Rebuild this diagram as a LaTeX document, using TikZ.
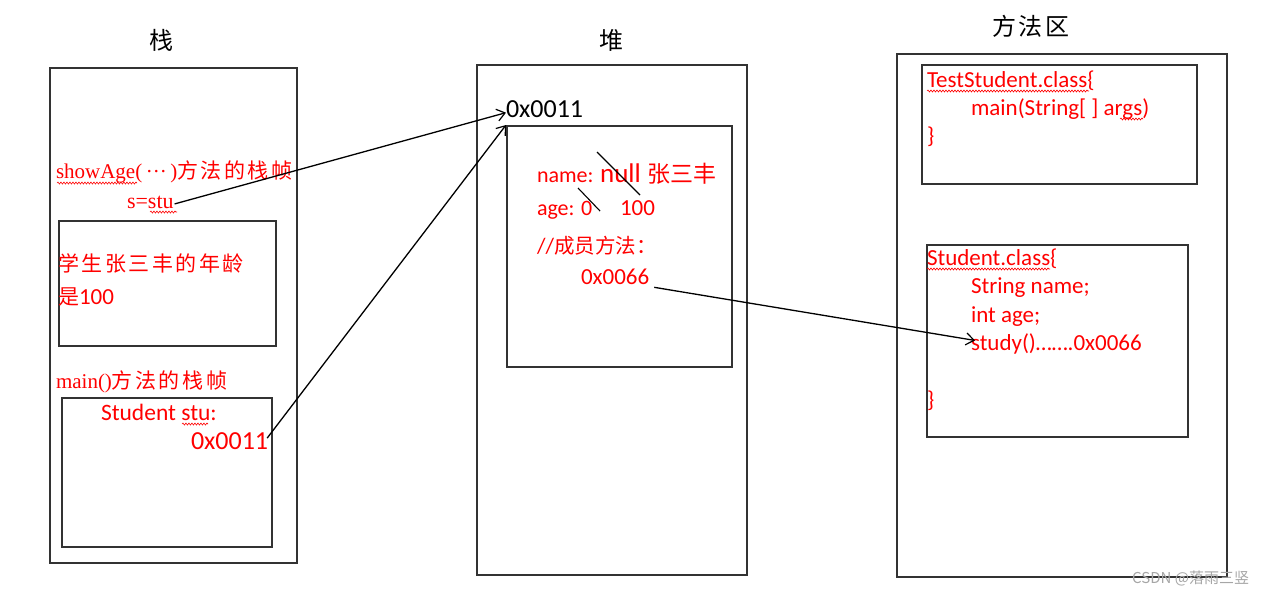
\documentclass[tikz,border=0pt]{standalone}
\usepackage{fontspec}
\setmainfont{Liberation Serif}
\newfontfamily\calib{Carlito}
\newfontfamily\cjk{Noto Sans CJK SC}
\newfontfamily\cjks[LetterSpace=12]{Noto Sans CJK SC}
\usetikzlibrary{arrows.meta,decorations.pathmorphing}
\newcommand\fs[1]{\fontsize{#1}{#1}\selectfont}
\tikzset{
  frame/.style={draw=black!80, line width=1.8pt, inner sep=0pt, anchor=north west},
  txt/.style={anchor=base west, inner sep=0pt, outer sep=0pt, text=red},
  ttl/.style={anchor=base, inner sep=0pt, text=black},
  arr/.style={draw=black, line width=1.3pt, -{Straight Barb[length=8pt,width=12pt,line width=1.2pt]}},
  strike/.style={draw=black, line width=1.1pt},
  wavy/.style={draw=red, line width=0.6pt, decorate, decoration={snake, amplitude=1pt, segment length=3pt}},
}
\begin{document}
\begin{tikzpicture}[x=1pt,y=-1pt]
\useasboundingbox (0,0) rectangle (1284,595);
\fill[white] (0,0) rectangle (1284,595);

% frames
\node[frame, minimum width=247pt, minimum height=495pt] (stack) at (49,67) {};
\node[frame, minimum width=217pt, minimum height=125pt] (frameA) at (58,220) {};
\node[frame, minimum width=210pt, minimum height=149pt] (frameB) at (61,397) {};
\node[frame, minimum width=270pt, minimum height=510pt] (heap) at (476,64) {};
\node[frame, minimum width=225pt, minimum height=241pt] (obj) at (506,125) {};
\node[frame, minimum width=330pt, minimum height=523pt] (method) at (896,53) {};
\node[frame, minimum width=275pt, minimum height=119pt] (tsclass) at (921,64) {};
\node[frame, minimum width=261pt, minimum height=192pt] (sclass) at (926,244) {};

% titles
\node[ttl] (t1) at (161,49) {\cjk\fs{24}栈};
\node[ttl] (t2) at (611,49) {\cjk\fs{24}堆};
\node[ttl] (t3) at (1031,35) {\cjks\fs{24}方法区};

% stack texts
\node[txt] (showage) at (56,178) {\fs{21}showAge(\,···\,)\cjks\fs{21}方法的栈帧};
\node[txt] (sstu) at (127,208) {\fs{22}s=stu};
\node[txt] (age1) at (58,271) {\cjks\fs{21}学生张三丰的年龄};
\node[txt] (age2) at (58,304) {\cjk\fs{21}是\calib\fs{23}100};
\node[txt] (mainf) at (56,388) {\fs{21}main()\cjks\fs{21}方法的栈帧};
\node[txt] (stu) at (101,420) {\calib\fs{23.5}Student stu:};
\node[txt] (m11) at (191,449) {\calib\fs{26}0x0011};

% heap texts
\node[txt, text=black] (h11) at (506,117) {\calib\fs{26}0x0011};
\node[txt] (name) at (537,182) {\calib\fs{22}name: \fs{27}null \cjk\fs{23}张三丰};
\node[txt] (age) at (537,215) {\calib\fs{22}age: 0};
\node[txt] (hundred) at (620,215) {\calib\fs{23}100};
\node[txt] (member) at (537,253) {\calib\fs{22}//\cjk\fs{20.5}成员方法：};
\node[txt] (p66) at (581,284) {\calib\fs{23}0x0066};

% method area texts
\node[txt] (ts1) at (927,87) {\calib\fs{23}TestStudent.class\{};
\node[txt] (ts2) at (971,115) {\calib\fs{23}main(String[ ] args)};
\node[txt] (ts3) at (927,143) {\calib\fs{23}\}};
\node[txt] (s1) at (927,265) {\calib\fs{23}Student.class\{};
\node[txt] (s2) at (971,293) {\calib\fs{23}String name;};
\node[txt] (s3) at (971,322) {\calib\fs{23}int age;};
\node[txt] (study) at (971,350) {\calib\fs{23}study()…….0x0066};
\node[txt] (s5) at (927,407) {\calib\fs{23}\}};

% strike-outs
\draw[strike] (597,152) -- (640,195);
\draw[strike] (578,188) -- (600,211);

% wavy underlines
\draw[wavy] (57,183) -- (137,183);
\draw[wavy] (150,212) -- (177,212);
\draw[wavy] (182,424) -- (208,424);
\draw[wavy] (927,91) -- (1089,91);
\draw[wavy] (1120,119) -- (1143,119);
\draw[wavy] (927,269) -- (1050,269);

% connectors
\draw[arr] ([xshift=1pt,yshift=-2pt]sstu.east) -- ([yshift=-4pt]h11.west);
\draw[arr] ([xshift=-1pt,yshift=-6pt]m11.north east) -- (obj.north west);
\draw[arr] ([xshift=5pt,yshift=-11pt]p66.east) -- ([xshift=4pt,yshift=3pt]study.west);

% watermark
\node[anchor=base west, inner sep=0pt, text=black!35] (wm) at (1132,583) {\cjk\fs{15}CSDN @落雨三竖};
\end{tikzpicture}
\end{document}
